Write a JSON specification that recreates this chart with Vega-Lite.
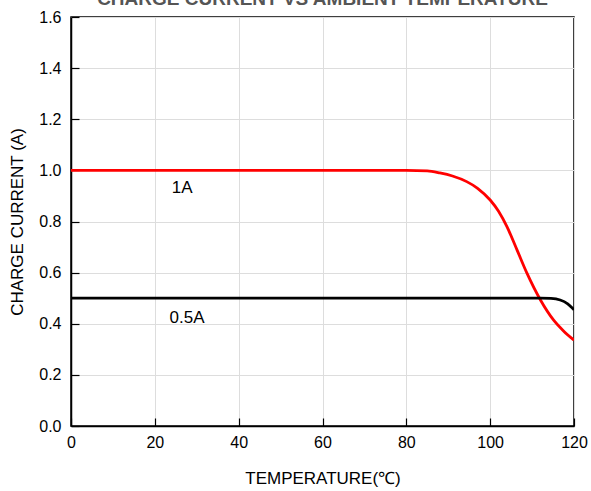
{
  "$schema": "https://vega.github.io/schema/vega-lite/v6.json",
  "width": 503,
  "height": 409,
  "autosize": "none",
  "padding": {"left": 71, "top": 17, "right": 17, "bottom": 65},
  "background": "white",
  "title": {"text": "CHARGE CURRENT VS AMBIENT TEMPERATURE", "font": "Liberation Sans", "fontSize": 19, "fontWeight": "bold", "color": "#555", "offset": -15, "anchor": "middle", "frame": "group", "baseline": "alphabetic"},
  "config": {
    "view": {"stroke": "black", "strokeWidth": 1.5},
    "axis": {"labelFont": "Liberation Sans", "titleFont": "Liberation Sans", "labelFontSize": 16, "titleFontSize": 17, "titleFontWeight": "normal", "labelColor": "black", "titleColor": "black", "gridColor": "#dddddd", "gridWidth": 1, "domainColor": "black", "domainWidth": 1.5, "tickColor": "black", "tickWidth": 1.2}
  },
  "datasets": {
    "curves": [
      {"t": 0, "i": 1.0, "s": "1A"},
      {"t": 20, "i": 1.0, "s": "1A"},
      {"t": 40, "i": 1.0, "s": "1A"},
      {"t": 60, "i": 1.0, "s": "1A"},
      {"t": 80, "i": 1.0, "s": "1A"},
      {"t": 85, "i": 0.998, "s": "1A"},
      {"t": 88, "i": 0.99, "s": "1A"},
      {"t": 91, "i": 0.978, "s": "1A"},
      {"t": 94.4, "i": 0.956, "s": "1A"},
      {"t": 97, "i": 0.93, "s": "1A"},
      {"t": 100, "i": 0.884, "s": "1A"},
      {"t": 102, "i": 0.84, "s": "1A"},
      {"t": 104, "i": 0.78, "s": "1A"},
      {"t": 106.4, "i": 0.689, "s": "1A"},
      {"t": 108.8, "i": 0.597, "s": "1A"},
      {"t": 112, "i": 0.493, "s": "1A"},
      {"t": 115.1, "i": 0.415, "s": "1A"},
      {"t": 117.5, "i": 0.372, "s": "1A"},
      {"t": 120, "i": 0.336, "s": "1A"},
      {"t": 0, "i": 0.5, "s": "0.5A"},
      {"t": 20, "i": 0.5, "s": "0.5A"},
      {"t": 40, "i": 0.5, "s": "0.5A"},
      {"t": 60, "i": 0.5, "s": "0.5A"},
      {"t": 80, "i": 0.5, "s": "0.5A"},
      {"t": 100, "i": 0.5, "s": "0.5A"},
      {"t": 112, "i": 0.5, "s": "0.5A"},
      {"t": 114.5, "i": 0.499, "s": "0.5A"},
      {"t": 116.7, "i": 0.493, "s": "0.5A"},
      {"t": 118.5, "i": 0.478, "s": "0.5A"},
      {"t": 120, "i": 0.455, "s": "0.5A"}
    ],
    "labels": [
      {"t": 26.5, "i": 0.931, "label": "1A"},
      {"t": 27.7, "i": 0.423, "label": "0.5A"}
    ]
  },
  "layer": [
    {
      "data": {"name": "curves"},
      "mark": {"type": "line", "interpolate": "monotone", "strokeWidth": 2.8, "clip": true},
      "encoding": {
        "x": {"field": "t", "type": "quantitative", "scale": {"domain": [0, 120], "nice": false}, "axis": {"title": "TEMPERATURE(℃)", "values": [0, 20, 40, 60, 80, 100, 120], "labelFlush": false, "tickSize": -8, "labelPadding": 16, "titlePadding": 20}},
        "y": {"field": "i", "type": "quantitative", "scale": {"domain": [0, 1.6], "nice": false}, "axis": {"title": "CHARGE CURRENT (A)", "values": [0, 0.2, 0.4, 0.6, 0.8, 1.0, 1.2, 1.4, 1.6], "format": ".1f", "labelFlush": false, "tickSize": -8, "labelPadding": 18, "titlePadding": 12}},
        "color": {"field": "s", "type": "nominal", "scale": {"domain": ["1A", "0.5A"], "range": ["#ff0000", "#000000"]}, "legend": null}
      }
    },
    {
      "data": {"name": "labels"},
      "mark": {"type": "text", "font": "Liberation Sans", "fontSize": 17, "color": "black"},
      "encoding": {
        "x": {"field": "t", "type": "quantitative"},
        "y": {"field": "i", "type": "quantitative"},
        "text": {"field": "label"}
      }
    }
  ]
}
